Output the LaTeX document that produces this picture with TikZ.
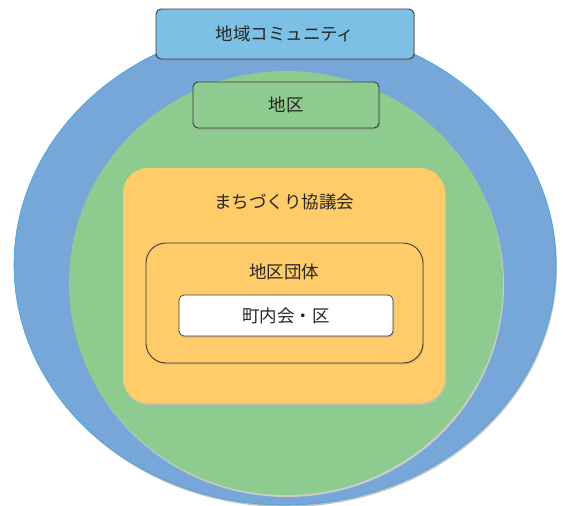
\documentclass[tikz,border=0pt]{standalone}
\usepackage{fontspec}
\newfontfamily\jp{Noto Sans CJK JP}
\usetikzlibrary{shadows}
\definecolor{cblue}{HTML}{77A7D9}
\definecolor{cblueedge}{HTML}{3AA6DF}
\definecolor{cgreen}{HTML}{8ECB8E}
\definecolor{corange}{HTML}{FFCC69}
\definecolor{ctop}{HTML}{7DC0E5}
\definecolor{cborder}{HTML}{3A3A3A}
\tikzset{
  lbl/.style={font=\jp\fontsize{17.5}{20}\selectfont, text=black!85},
  tagbox/.style={draw=cborder, line width=0.9pt, rounded corners=5pt,
    drop shadow={shadow xshift=1pt, shadow yshift=-1.5pt, opacity=0.3}},
}
\begin{document}
\begin{tikzpicture}[x=1pt,y=-1pt]
\useasboundingbox (0,0) rectangle (563,506);
% outer ellipse
\fill[black!25] (286,267) ellipse [x radius=271, y radius=240];
\draw[fill=cblue, draw=cblueedge, line width=0.6pt] (285,265) ellipse [x radius=271, y radius=240];
% green ellipse
\fill[black!20] (287,285) ellipse [x radius=217, y radius=212];
\fill[cgreen] (286,283) ellipse [x radius=217, y radius=212];
% orange box
\fill[black!25, rounded corners=25pt] (124,170) rectangle (446,405);
\fill[corange, rounded corners=25pt] (123,168) rectangle (445,403);
\node[lbl] (mc) at (284,202) {まちづくり協議会};
% 地区団体
\draw[tagbox, fill=corange, rounded corners=20pt] (146,243) rectangle (423,363);
\node[lbl] (dt) at (284,272) {地区団体};
% 町内会・区
\draw[tagbox, fill=white, line width=0.7pt] (179,295) rectangle (393,336);
\node[lbl] (ck) at (286,316) {町内会・区};
% 地区
\draw[tagbox, fill=cgreen] (193,82) rectangle (379,128);
\node[lbl] (ck2) at (286,105) {地区};
% 地域コミュニティ
\draw[tagbox, fill=ctop] (156,9) rectangle (414,59);
\node[lbl] (cm) at (285,34) {地域コミュニティ};
\end{tikzpicture}
\end{document}
